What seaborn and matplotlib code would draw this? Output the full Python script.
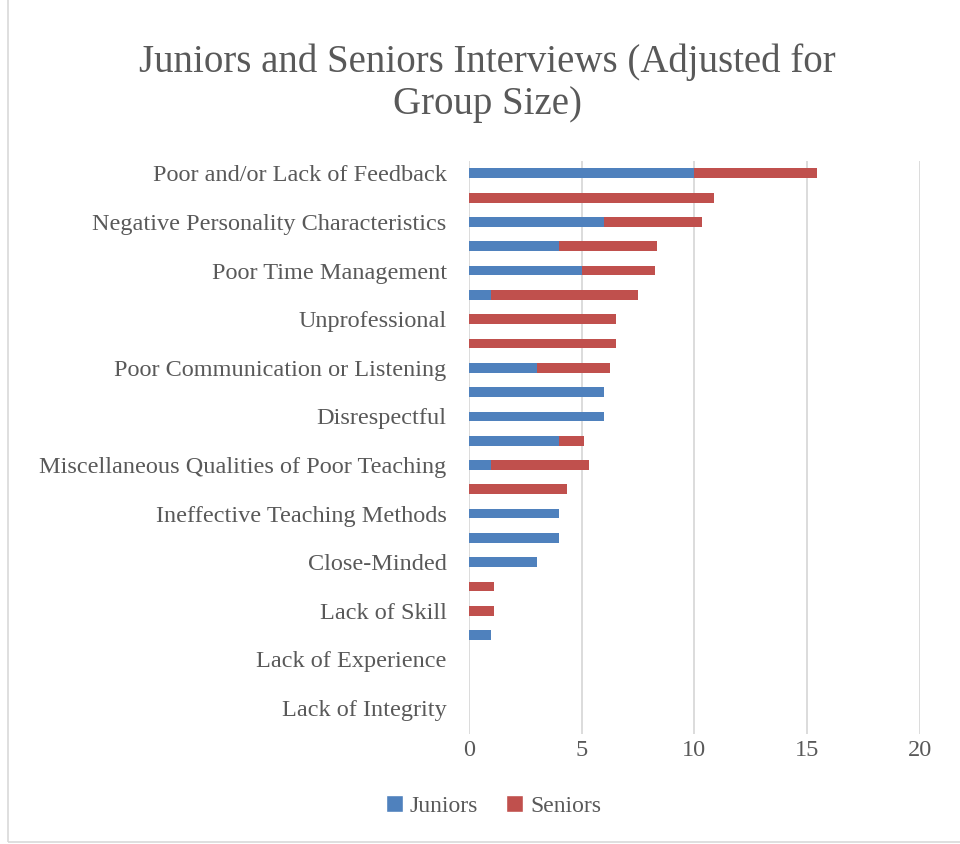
import matplotlib
matplotlib.use("Agg")
import matplotlib.pyplot as plt
import seaborn as sns
import pandas as pd
from matplotlib.patches import Patch, Rectangle

# ---- data (top to bottom) ----
row_labels = [
    "Poor and/or Lack of Feedback", "",
    "Negative Personality Characteristics", "",
    "Poor Time Management", "",
    "Unprofessional", "",
    "Poor Communication or Listening", "",
    "Disrespectful", "",
    "Miscellaneous Qualities of Poor Teaching", "",
    "Ineffective Teaching Methods", "",
    "Close-Minded", "",
    "Lack of Skill", "",
    "Lack of Experience", "",
    "Lack of Integrity",
]
juniors = [10, 0, 6, 4, 5, 1, 0, 0, 3, 6, 6, 4, 1, 0, 4, 4, 3, 0, 0, 1, 0, 0, 0]
seniors = [5.43, 10.86, 4.34, 4.34, 3.26, 6.52, 6.52, 6.52, 3.26, 0, 0, 1.09, 4.34,
           4.34, 0, 0, 0, 1.09, 1.09, 0, 0, 0, 0]
x_ticks = [0, 5, 10, 15, 20]
title = "Juniors and Seniors Interviews (Adjusted for\nGroup Size)"

BLUE = "#4F81BD"
RED = "#C0504D"
GREY = "#595959"

row_ids = [f"r{i}" for i in range(len(row_labels))]
df = pd.DataFrame({"row": row_ids, "Juniors": juniors, "Seniors": seniors})
df["Total"] = df["Juniors"] + df["Seniors"]

sns.set_theme(style="white")
plt.rcParams["font.family"] = ["Liberation Serif", "DejaVu Serif"]

fig = plt.figure(figsize=(9.6, 8.44), dpi=100)
ax = fig.add_axes([0.4885, 0.130, 0.4695, 0.679])

sns.barplot(data=df, y="row", x="Total", color=RED, width=0.4, ax=ax,
            orient="h", order=row_ids, saturation=1, linewidth=0)
sns.barplot(data=df, y="row", x="Juniors", color=BLUE, width=0.4, ax=ax,
            orient="h", order=row_ids, saturation=1, linewidth=0)

ax.set_xlim(0, 20)
ax.set_xticks(x_ticks)
ax.set_xticklabels([str(t) for t in x_ticks], fontsize=17.5, color=GREY)
ax.set_yticks(range(len(row_labels)))
ax.set_yticklabels(row_labels, fontsize=17.5, color=GREY)
ax.set_ylim(len(row_labels) - 0.5 + 0.58, -0.5)
ax.set_xlabel("")
ax.set_ylabel("")
ax.tick_params(axis="y", length=0, pad=16)
ax.tick_params(axis="x", length=0, pad=4)
for s in ax.spines.values():
    s.set_visible(False)
ax.grid(axis="x", color="#D9D9D9", linewidth=1.3)
ax.set_axisbelow(True)

fig.text(0.508, 0.948, title, ha="center", va="top", fontsize=28, color=GREY,
         linespacing=1.17)

handles = [Patch(facecolor=BLUE, label="Juniors"), Patch(facecolor=RED, label="Seniors")]
fig.legend(handles=handles, loc="center", bbox_to_anchor=(0.514, 0.045), ncol=2,
           frameon=False, fontsize=17, handlelength=0.7, handleheight=0.7,
           handletextpad=0.3, columnspacing=1.2, labelcolor=GREY)

fig.patches.append(Rectangle((0.008, 0.002), 0.995, 1.05, transform=fig.transFigure,
                             fill=False, edgecolor="#D9D9D9", linewidth=1.2))

fig.savefig("out.png", dpi=100)
